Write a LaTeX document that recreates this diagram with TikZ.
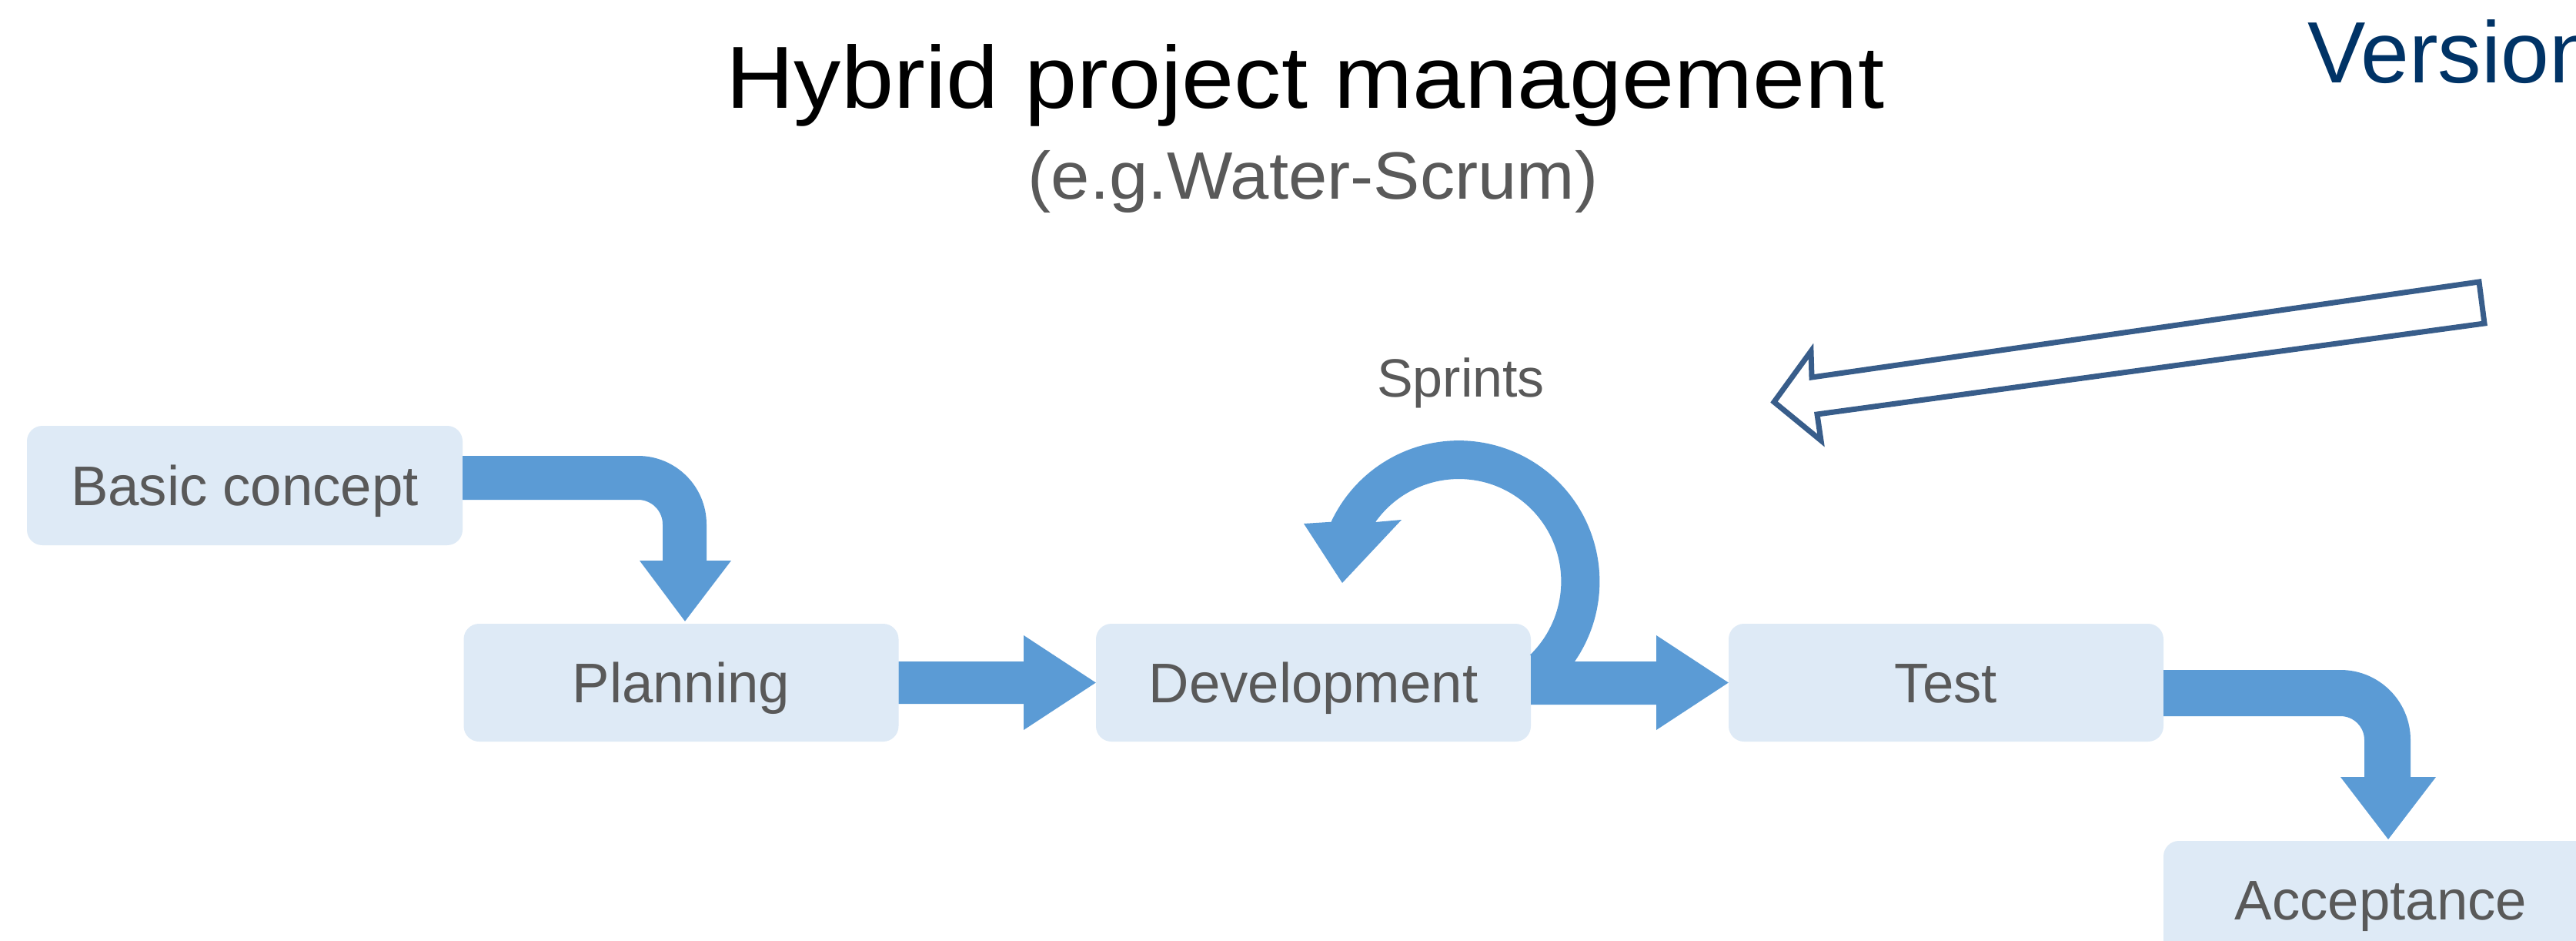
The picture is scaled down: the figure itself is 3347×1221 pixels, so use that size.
\documentclass[tikz,border=0pt]{standalone}
\usepackage{fontspec}
\setmainfont{Liberation Sans}
\usepackage{graphicx}
\usetikzlibrary{calc}
\definecolor{boxfill}{HTML}{DEEAF6}
\definecolor{arrowblue}{HTML}{5B9BD5}
\definecolor{textgray}{HTML}{595959}
\definecolor{outlineblue}{HTML}{385D8A}
\definecolor{versionblue}{HTML}{003366}
\tikzset{
  stepbox/.style={fill=boxfill, rounded corners=20pt, minimum width=565pt, minimum height=153pt,
    inner sep=0pt, text=textgray, font=\fontsize{72.6}{80}\selectfont, text height=52pt, text depth=0pt},
  blockarrow/.style={fill=arrowblue},
  hollowarrow/.style={draw=outlineblue, line width=7pt, fill=white, line join=miter},
  plaintext/.style={inner sep=0pt, anchor=base}
}
\begin{document}
\begin{tikzpicture}[x=1pt,y=-1pt]
\useasboundingbox (0,0) rectangle (3347,1221);
\clip (0,0) rectangle (3347,1221);
\fill[white] (0,0) rectangle (3347,1221);

% titles
\node[plaintext, font=\fontsize{114.5}{130}\selectfont] (title) at (1696,140) {\scalebox{1.07}[1]{Hybrid project management}};
\node[plaintext, text=textgray, font=\fontsize{87}{95}\selectfont] (subtitle) at (1706,258) {\scalebox{1.04}[1]{(e.g.Water-Scrum)}};
\node[plaintext, anchor=base west, text=versionblue, font=\fontsize{113}{130}\selectfont] (version) at (2998,107) {Version};
\node[plaintext, text=textgray, font=\fontsize{70}{80}\selectfont] (sprints) at (1898,515) {Sprints};

% boxes
\node[stepbox, minimum width=566pt, minimum height=155pt] (basic) at (318,630.5) {Basic concept};
\node[stepbox] (plan) at (885,886.5) {Planning};
\node[stepbox] (dev) at (1706.5,886.5) {Development};
\node[stepbox] (test) at (2528.5,886.5) {Test};
\node[stepbox] (accept) at (3093.5,1168.5) {Acceptance};

% Basic concept -> Planning
\fill[blockarrow] ($(basic.east)+(0,-38.5)$) -- (829,592)
  arc[start angle=-90, end angle=0, radius=89] -- (918,728) -- (950,728)
  -- ($(plan.north)+(5,-3)$) -- (831,728) -- (861,728) -- (861,681)
  arc[start angle=0, end angle=-90, radius=32] -- ($(basic.east)+(0,18.5)$) -- cycle;

% Planning -> Development
\fill[blockarrow] ($(plan.east)+(0,-27.5)$) -- (1330,859) -- (1330,825) -- (dev.west)
  -- (1330,948) -- (1330,914) -- ($(plan.east)+(0,27.5)$) -- cycle;

% Development -> Test with sprint loop
\fill[blockarrow] ($(dev.east)+(0,28.5)$) -- (2152,915) -- (2152,948) -- (test.west)
  -- (2152,825) -- (2152,859) -- (2046,859)
  arc[start angle=34.6, end angle=-155, radius=183]
  -- (1694,680) -- (1744,757) -- (1821,675) -- (1787,678)
  arc[start angle=-144.6, end angle=46, radius=133]
  -- ($(dev.east)+(0,-35.5)$) -- cycle;

% Test -> Acceptance
\fill[blockarrow] ($(test.east)+(0,-16.5)$) -- (3041,870)
  arc[start angle=-90, end angle=0, radius=91] -- (3132,1009) -- (3165,1009)
  -- (3103,1090) -- (3041,1009) -- (3072,1009) -- (3072,961)
  arc[start angle=0, end angle=-90, radius=31] -- ($(test.east)+(0,43.5)$) -- cycle;

% hollow arrow pointing to sprints
\draw[hollowarrow] (3221,366) -- (2354,490) -- (2353,456) -- (2305,522) -- (2366,572)
  -- (2361,538) -- (3228,420) -- cycle;
\end{tikzpicture}
\end{document}
